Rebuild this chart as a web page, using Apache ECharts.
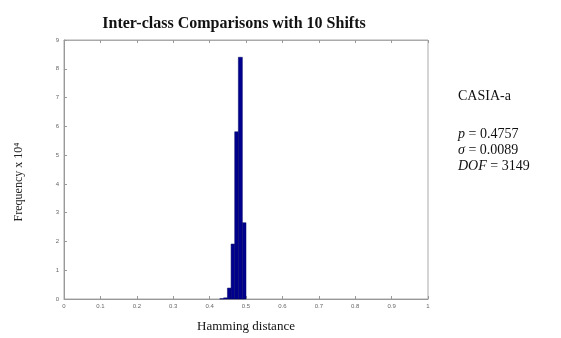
<!DOCTYPE html>
<html><head><meta charset="utf-8">
<script src="https://cdn.jsdelivr.net/npm/echarts@6/dist/echarts.min.js"></script>
<style>html,body{margin:0;padding:0;background:#fff}#c{width:561px;height:338px}</style>
</head><body><div id="c"></div>
<script>
// Histogram bins (Hamming distance) and frequencies (x 10^4)
const binStarts = [0.428, 0.4385, 0.449, 0.459, 0.469, 0.479, 0.490];
const binEnds   = [0.4385, 0.449, 0.459, 0.469, 0.479, 0.490, 0.500];
const freq      = [0.01, 0.04, 0.38, 1.91, 5.81, 8.40, 2.65];
const xTicks = [0, 0.1, 0.2, 0.3, 0.4, 0.5, 0.6, 0.7, 0.8, 0.9, 1];
const yTicks = [0, 1, 2, 3, 4, 5, 6, 7, 8, 9];
const titleText = 'Inter-class Comparisons with 10 Shifts';
const xName = 'Hamming distance';
const yName = 'Frequency x 10\u2074';
const statsLabel = 'CASIA-a';
const statsP = '0.4757', statsSigma = '0.0089', statsDOF = '3149';

const data = binStarts.map((s, i) => [s, binEnds[i], freq[i]]);
const chart = echarts.init(document.getElementById('c'));
const serif = '"Liberation Serif", "DejaVu Serif", serif';
const tickLbl = {fontSize: 6, color: '#666', fontFamily: '"Liberation Sans", sans-serif'};
chart.setOption({
  animation: false,
  title: {text: titleText, left: 229, top: 11, textAlign: 'center',
    textStyle: {fontFamily: serif, fontWeight: 'bold', fontSize: 16, color: '#111'}},
  grid: {left: 64, right: 133, top: 40, bottom: 39, show: true, borderColor: '#aaa', borderWidth: 1,
    containLabel: false, outerBoundsMode: 'none'},
  xAxis: [{type: 'value', min: 0, max: 1, interval: 0.1, position: 'bottom',
    axisLine: {lineStyle: {color: '#999'}}, axisTick: {inside: true, length: 3, lineStyle: {color: '#999'}},
    axisLabel: Object.assign({margin: 4, formatter: v => String(+v.toFixed(1))}, tickLbl), splitLine: {show: false},
    name: xName, nameLocation: 'middle', nameGap: 28,
    nameTextStyle: {fontFamily: serif, fontSize: 13, color: '#111', verticalAlign: 'middle'}},
    {type: 'value', min: 0, max: 1, interval: 0.1, position: 'top',
    axisLine: {lineStyle: {color: '#aaa'}}, axisTick: {inside: true, length: 3, lineStyle: {color: '#999'}},
    axisLabel: {show: false}, splitLine: {show: false}}],
  yAxis: {type: 'value', min: 0, max: 9, interval: 1,
    axisLine: {show: true, lineStyle: {color: '#999'}}, axisTick: {show: true, inside: true, length: 3, lineStyle: {color: '#999'}},
    axisLabel: Object.assign({margin: 5}, tickLbl), splitLine: {show: false}},
  series: [{type: 'custom', xAxisIndex: 0, data: data,
    renderItem: function (params, api) {
      const p0 = api.coord([api.value(0), api.value(2)]);
      const p1 = api.coord([api.value(1), 0]);
      return {type: 'rect', shape: {x: p0[0], y: p0[1], width: p1[0] - p0[0], height: p1[1] - p0[1]},
        style: {fill: '#00008f', stroke: '#000060', lineWidth: 0.5}};
    }}],
  graphic: [
    {type: 'text', x: 19, y: 182, rotation: Math.PI / 2,
      style: {text: yName, font: '12px ' + serif, fill: '#222', textAlign: 'center', textVerticalAlign: 'middle'}},
    {type: 'text', left: 458, top: 89, style: {text: statsLabel, font: '14px ' + serif, fill: '#111'}},
    {type: 'text', left: 458, top: 126, style: {
      text: '{i|p} = ' + statsP + '\n{i|\u03c3} = ' + statsSigma + '\n{i|DOF} = ' + statsDOF,
      font: '14px ' + serif, fill: '#111', lineHeight: 16,
      rich: {i: {fontStyle: 'italic', font: 'italic 14px ' + serif, fill: '#111'}}}}
  ]
});
</script></body></html>
